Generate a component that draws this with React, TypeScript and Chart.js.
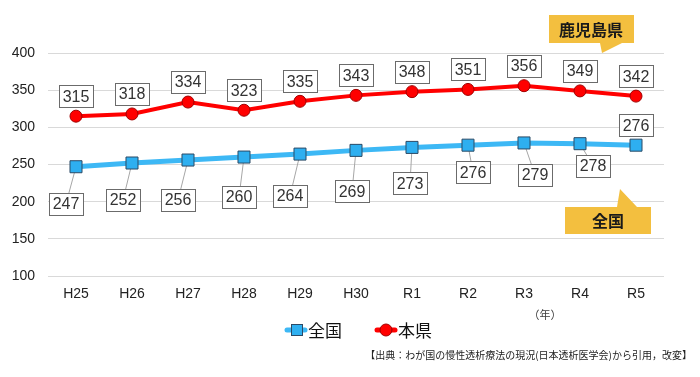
import React, { useEffect, useRef } from "react";
import { Chart, registerables } from "chart.js";

Chart.register(...registerables);

const CATEGORIES = ["H25", "H26", "H27", "H28", "H29", "H30", "R1", "R2", "R3", "R4", "R5"];
const ZENKOKU = [247, 252, 256, 260, 264, 269, 273, 276, 279, 278, 276];
const HONKEN = [315, 318, 334, 323, 335, 343, 348, 351, 356, 349, 342];
const Y_TICKS = [100, 150, 200, 250, 300, 350, 400];

// label placement offsets (px) relative to point
const ZENKOKU_LABEL_DX = [-10, -9, -10, -5, -10, -4, -2, 5, 11, 13, 0];
const ZENKOKU_LABEL_DY = [37, 37, 40, 40, 42, 41, 36, 27, 32, 22, -20];
const HONKEN_LABEL_DY = -20;

const BLUE_LINE = "#3db8f5";
const BLUE_FILL = "#2eaff0";
const BLUE_BORDER = "#2b4a66";
const RED = "#ff0000";
const RED_BORDER = "#a00000";
const GOLD = "#f3bf3f";
const NUM_FONT = "'Liberation Sans', Arial, sans-serif";
const JP_FONT = "'Noto Sans CJK JP', sans-serif";

const labelPlugin = {
  id: "labelsAndDecor",
  beforeDatasetsDraw(chart: any) {
    const ctx = chart.ctx;
    const meta = chart.getDatasetMeta(0);
    ctx.save();
    ctx.strokeStyle = "#a6a6a6";
    ctx.lineWidth = 1;
    meta.data.forEach((pt: any, i: number) => {
      const dy = ZENKOKU_LABEL_DY[i];
      if (dy > 0) {
        ctx.beginPath();
        ctx.moveTo(pt.x, pt.y);
        ctx.lineTo(pt.x + ZENKOKU_LABEL_DX[i], pt.y + dy);
        ctx.stroke();
      }
    });
    ctx.restore();
  },
  afterDatasetsDraw(chart: any) {
    const ctx = chart.ctx;
    const drawBox = (cx: number, cy: number, text: string) => {
      ctx.font = `16px ${NUM_FONT}`;
      const w = ctx.measureText(text).width + 7;
      const h = 22;
      ctx.fillStyle = "#ffffff";
      ctx.fillRect(Math.round(cx - w / 2) + 0.5, Math.round(cy - h / 2) + 0.5, Math.round(w), h);
      ctx.strokeStyle = "#6b6b6b";
      ctx.lineWidth = 1;
      ctx.strokeRect(Math.round(cx - w / 2) + 0.5, Math.round(cy - h / 2) + 0.5, Math.round(w), h);
      ctx.fillStyle = "#333333";
      ctx.textAlign = "center";
      ctx.textBaseline = "middle";
      ctx.fillText(text, cx, cy + 1);
    };
    ctx.save();
    const m0 = chart.getDatasetMeta(0);
    m0.data.forEach((pt: any, i: number) => {
      drawBox(pt.x + ZENKOKU_LABEL_DX[i], pt.y + ZENKOKU_LABEL_DY[i], String(ZENKOKU[i]));
    });
    const m1 = chart.getDatasetMeta(1);
    m1.data.forEach((pt: any, i: number) => {
      drawBox(pt.x, pt.y + HONKEN_LABEL_DY, String(HONKEN[i]));
    });
    ctx.restore();
  },
  afterDraw(chart: any) {
    const ctx = chart.ctx;
    ctx.save();
    // callout: 鹿児島県
    ctx.fillStyle = GOLD;
    ctx.beginPath();
    ctx.moveTo(549, 15);
    ctx.lineTo(634, 15);
    ctx.lineTo(634, 43);
    ctx.lineTo(622, 43);
    ctx.lineTo(602, 53);
    ctx.lineTo(600, 43);
    ctx.lineTo(549, 43);
    ctx.closePath();
    ctx.fill();
    // callout: 全国
    ctx.beginPath();
    ctx.moveTo(565, 207);
    ctx.lineTo(617, 207);
    ctx.lineTo(620, 189);
    ctx.lineTo(637, 207);
    ctx.lineTo(651, 207);
    ctx.lineTo(651, 234);
    ctx.lineTo(565, 234);
    ctx.closePath();
    ctx.fill();
    ctx.fillStyle = "#1a1a1a";
    ctx.font = `bold 16px ${JP_FONT}`;
    ctx.textAlign = "center";
    ctx.textBaseline = "middle";
    ctx.fillText("鹿児島県", 591, 30);
    ctx.fillText("全国", 608, 221);

    // x unit
    ctx.fillStyle = "#404040";
    ctx.font = `11px ${JP_FONT}`;
    ctx.fillText("（年）", 545, 315);

    // legend
    const ly = 330;
    ctx.lineCap = "round";
    ctx.strokeStyle = BLUE_LINE;
    ctx.lineWidth = 5;
    ctx.beginPath();
    ctx.moveTo(287, ly);
    ctx.lineTo(305, ly);
    ctx.stroke();
    ctx.fillStyle = BLUE_FILL;
    ctx.fillRect(291, ly - 6, 12, 12);
    ctx.strokeStyle = BLUE_BORDER;
    ctx.lineWidth = 1;
    ctx.strokeRect(291.5, ly - 5.5, 11, 11);
    ctx.fillStyle = "#111";
    ctx.font = `17px ${JP_FONT}`;
    ctx.textAlign = "left";
    ctx.fillText("全国", 308, ly + 1);

    ctx.strokeStyle = RED;
    ctx.lineWidth = 5;
    ctx.beginPath();
    ctx.moveTo(377, ly);
    ctx.lineTo(395, ly);
    ctx.stroke();
    ctx.fillStyle = RED;
    ctx.beginPath();
    ctx.arc(386, ly, 6, 0, Math.PI * 2);
    ctx.fill();
    ctx.strokeStyle = RED_BORDER;
    ctx.lineWidth = 1;
    ctx.stroke();
    ctx.fillStyle = "#111";
    ctx.fillText("本県", 398, ly + 1);

    // source
    ctx.fillStyle = "#222";
    ctx.font = `10px ${JP_FONT}`;
    ctx.textAlign = "right";
    ctx.fillText("【出典：わが国の慢性透析療法の現況(日本透析医学会)から引用，改変】", 692, 355);
    ctx.restore();
  },
};

export default function App() {
  const ref = useRef<HTMLCanvasElement>(null);
  useEffect(() => {
    if (!ref.current) return;
    const chart = new Chart(ref.current, {
      type: "line",
      data: {
        labels: CATEGORIES,
        datasets: [
          {
            label: "全国",
            data: ZENKOKU,
            borderColor: BLUE_LINE,
            borderWidth: 5,
            pointStyle: "rect",
            pointRadius: 8.5,
            pointBackgroundColor: BLUE_FILL,
            pointBorderColor: BLUE_BORDER,
            pointBorderWidth: 1,
            tension: 0,
          },
          {
            label: "本県",
            data: HONKEN,
            borderColor: RED,
            borderWidth: 4,
            pointStyle: "circle",
            pointRadius: 6,
            pointBackgroundColor: RED,
            pointBorderColor: RED_BORDER,
            pointBorderWidth: 1,
            tension: 0,
          },
        ],
      },
      options: {
        animation: false,
        responsive: false,
        layout: { padding: { top: 53, right: 36, bottom: 71, left: 0 } },
        plugins: { legend: { display: false }, tooltip: { enabled: false } },
        scales: {
          x: {
            offset: true,
            grid: { display: false, drawTicks: false },
            border: { display: false },
            ticks: { color: "#222", font: { size: 14, family: NUM_FONT }, padding: 10 },
            afterFit: (s: any) => {
              s.height = 30;
            },
          },
          y: {
            min: 100,
            max: 400,
            afterBuildTicks: (s: any) => {
              s.ticks = Y_TICKS.map((v) => ({ value: v }));
            },
            grid: { color: "#d9d9d9", lineWidth: 1, drawTicks: false },
            border: { display: false },
            ticks: { color: "#222", font: { size: 14, family: NUM_FONT }, padding: 13 },
            afterFit: (s: any) => {
              s.width = 48;
            },
          },
        },
      },
      plugins: [labelPlugin],
    });
    return () => chart.destroy();
  }, []);
  return (
    <div style={{ position: "fixed", left: 0, top: 0, width: 700, height: 377, background: "#fff" }}>
      <canvas ref={ref} width={700} height={377} style={{ width: 700, height: 377 }} />
    </div>
  );
}
